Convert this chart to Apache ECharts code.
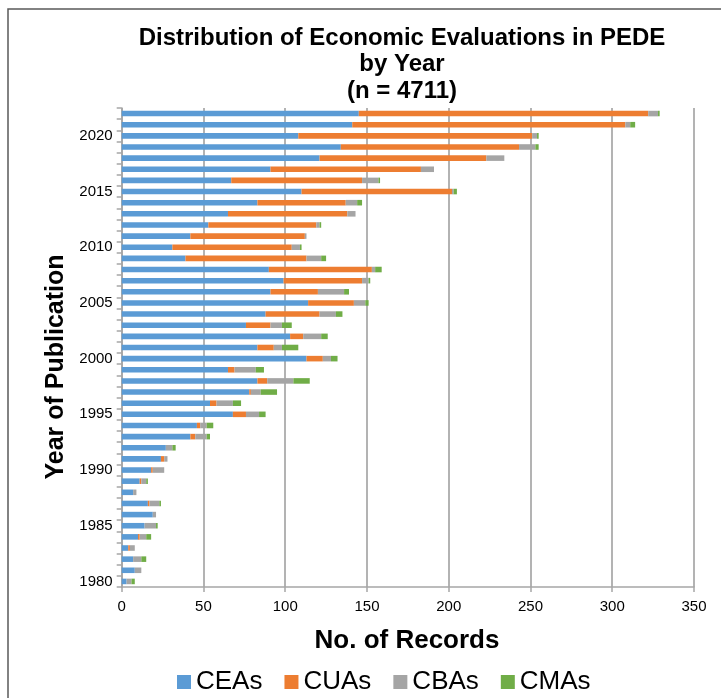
<!DOCTYPE html>
<html>
<head>
<meta charset="utf-8">
<script src="https://cdn.jsdelivr.net/npm/echarts@6/dist/echarts.min.js"></script>
<style>
  html, body { margin: 0; padding: 0; background: #fff; }
  #chart { width: 721px; height: 698px; }
</style>
</head>
<body>
<div id="chart"></div>
<script>
// Year of publication, 1980 (bottom) → 2022 (top)
const years = ["1980","1981","1982","1983","1984","1985","1986","1987","1988","1989",
  "1990","1991","1992","1993","1994","1995","1996","1997","1998","1999",
  "2000","2001","2002","2003","2004","2005","2006","2007","2008","2009",
  "2010","2011","2012","2013","2014","2015","2016","2017","2018","2019",
  "2020","2021","2022"];

// records per type
const ceas = [3, 8, 7, 4, 10, 14, 19, 16, 7, 11,
  18, 24, 27, 42, 46, 68, 54, 78, 83, 65,
  113, 83, 103, 76, 88, 114, 91, 99, 90, 39,
  31, 42, 53, 65, 83, 110, 67, 91, 121, 134,
  108, 141, 145];
const cuas = [0, 0, 0, 1, 1, 0, 0, 1, 0, 1,
  1, 2, 0, 3, 2, 8, 4, 1, 6, 4,
  10, 10, 8, 15, 33, 28, 29, 48, 63, 74,
  73, 70, 66, 73, 54, 92, 80, 92, 102, 109,
  143, 167, 177];
const cbas = [3, 4, 5, 3, 4, 7, 2, 6, 2, 3,
  7, 2, 4, 7, 4, 8, 10, 6, 16, 13,
  5, 5, 11, 7, 10, 7, 16, 4, 2, 9,
  5, 1, 2, 5, 7, 1, 10, 8, 11, 10,
  3, 3, 6];
const cmas = [2, 0, 3, 0, 3, 1, 0, 1, 0, 1,
  0, 0, 2, 2, 4, 4, 5, 10, 10, 5,
  4, 10, 4, 6, 4, 2, 3, 1, 4, 3,
  1, 0, 1, 0, 3, 2, 1, 0, 0, 2,
  1, 3, 1];

const seriesNames = ["CEAs", "CUAs", "CBAs", "CMAs"];
const seriesColors = ["#5b9bd5", "#ed7d31", "#a5a5a5", "#70ad47"];
const xTicks = { min: 0, max: 350, interval: 50 };

const FONT = '"Liberation Sans", Arial, sans-serif';
const GRID_GRAY = "#a6a6a6";

const chart = echarts.init(document.getElementById("chart"), null, { renderer: "canvas" });

const makeSeries = (name, data, i) => ({
  name,
  type: "bar",
  stack: "total",
  data,
  barWidth: "50%",
  itemStyle: { color: seriesColors[i] },
  emphasis: { disabled: true },
});

chart.setOption({
  animation: false,
  backgroundColor: "#fff",
  textStyle: { fontFamily: FONT },
  grid: { left: 121.7, right: 27, top: 108, bottom: 111, containLabel: false },
  legend: {
    data: seriesNames,
    left: 172,
    top: 664,
    icon: "rect",
    itemWidth: 14,
    itemHeight: 14,
    itemGap: 22,
    textStyle: { fontSize: 26, color: "#000", fontFamily: FONT },
  },
  xAxis: {
    type: "value",
    ...xTicks,
    axisLine: { show: true, lineStyle: { color: GRID_GRAY, width: 1.5 } },
    axisTick: { show: true, length: 5, lineStyle: { color: GRID_GRAY, width: 1.5 } },
    axisLabel: { fontSize: 15, color: "#000", margin: 12 },
    splitLine: { show: true, lineStyle: { color: "#9a9a9a", width: 1.5 } },
  },
  yAxis: {
    type: "category",
    data: years,
    axisLine: { show: true, lineStyle: { color: GRID_GRAY, width: 1.5 } },
    axisTick: { show: true, interval: 0, length: 5, lineStyle: { color: GRID_GRAY, width: 1.5 } },
    axisLabel: { interval: 4, fontSize: 15, color: "#000", margin: 9 },
    splitLine: { show: false },
  },
  series: [
    makeSeries("CEAs", ceas, 0),
    makeSeries("CUAs", cuas, 1),
    makeSeries("CBAs", cbas, 2),
    makeSeries("CMAs", cmas, 3),
  ],
  graphic: [
    // chart area frame (top + left edges only are visible)
    {
      type: "polyline",
      shape: { points: [[8, 698], [8, 9], [721, 9]] },
      style: { stroke: "#595959", lineWidth: 1.5, fill: null },
      silent: true,
    },
    {
      type: "text",
      x: 402,
      y: 25,
      style: {
        text: "Distribution of Economic Evaluations in PEDE\nby Year\n(n = 4711)",
        font: "bold 24px " + FONT,
        fill: "#000",
        align: "center",
        verticalAlign: "top",
        lineHeight: 26.5,
      },
      silent: true,
    },
    {
      type: "text",
      x: 56,
      y: 367,
      rotation: Math.PI / 2,
      style: {
        text: "Year of Publication",
        font: "bold 25px " + FONT,
        fill: "#000",
        align: "center",
        verticalAlign: "middle",
      },
      silent: true,
    },
    {
      type: "text",
      x: 407,
      y: 641,
      style: {
        text: "No. of Records",
        font: "bold 26px " + FONT,
        fill: "#000",
        align: "center",
        verticalAlign: "middle",
      },
      silent: true,
    },
  ],
});
</script>
</body>
</html>
